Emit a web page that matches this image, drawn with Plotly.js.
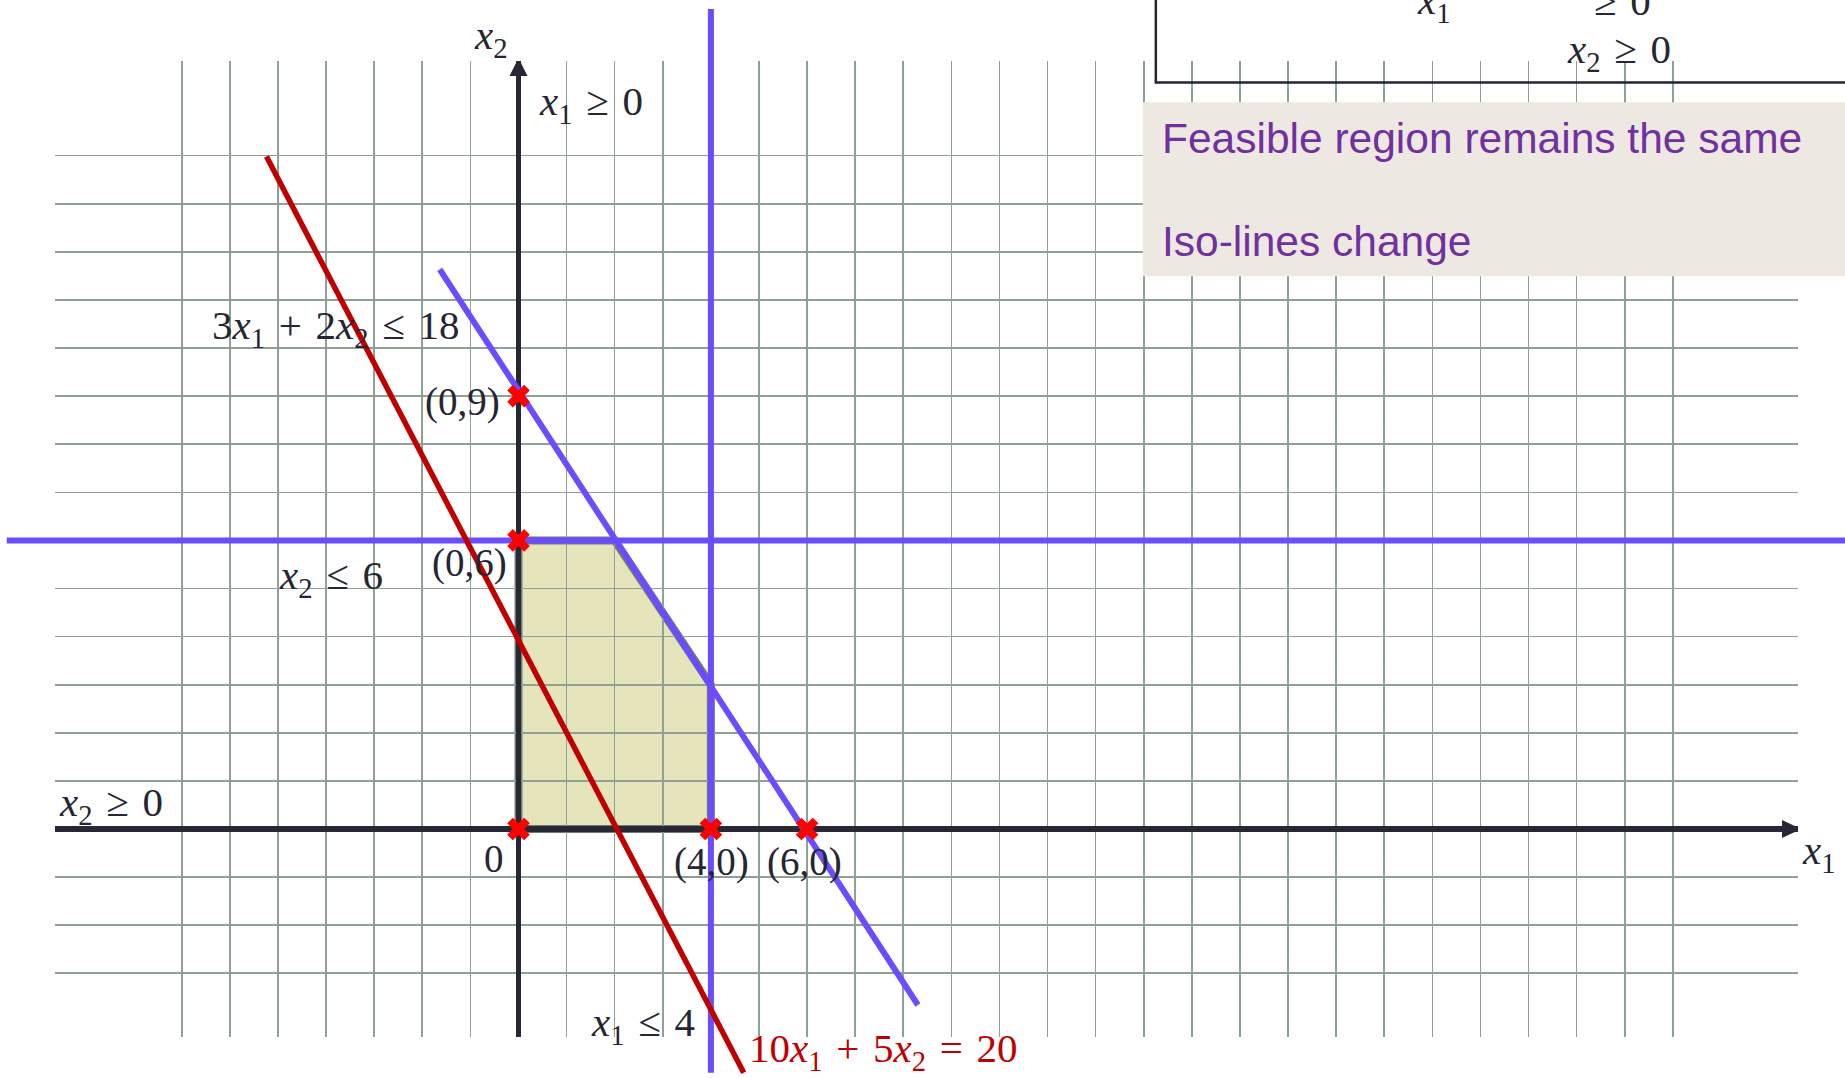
<!DOCTYPE html>
<html><head><meta charset="utf-8">
<script src="https://cdn.plot.ly/plotly-3.0.1.min.js"></script>
<style>html,body{margin:0;padding:0;background:#fff;overflow:hidden}</style>
</head><body>
<div id="chart" style="width:1845px;height:1078px"></div>
<script>
// ---------------- data (graph units) ----------------
const cornerX = [0, 0, 0, 4, 6];          // marked corner points
const cornerY = [0, 6, 9, 0, 0];
const feasibleX = [0, 0, 2, 4, 4];        // feasible region vertices
const feasibleY = [0, 6, 6, 3, 0];
const isoX = [-5.24, 4.683];              // 10x1 + 5x2 = 20
const isoY = [13.98, -5.066];
const c1X = [-1.638, 8.304];              // 3x1 + 2x2 = 18
const c1Y = [11.636, -3.659];
const c2X = [4, 4];                       // x1 = 4
const c2Y = [-5.07, 17.05];
const c3X = [-10.64, 28];                 // x2 = 6
const c3Y = [6, 6];
const gridTicksX = [-7, -6, -5, -4, -3, -2, -1, 0, 1, 2, 3, 4, 5, 6, 7, 8, 9, 10, 11, 12,
                    13, 14, 15, 16, 17, 18, 19, 20, 21, 22, 23, 24];
const gridTicksY = [-3, -2, -1, 0, 1, 2, 3, 4, 5, 6, 7, 8, 9, 10, 11, 12, 13, 14];

// ---------------- layout constants ----------------
const W = 1845, H = 1078;
const gridRangeX = [-9.636, 26.601];
const gridRangeY = [-4.318, 15.967];
const viewRangeX = [-10.78, 27.578];
const viewRangeY = [-5.177, 17.235];
const PURPLE = '#6B4CFF', RED = '#C00000', DARK = '#262633';
const MATH = 'Liberation Serif, Times New Roman, serif';
const SP = '\u2004';

const traces = [
  {x: c3X, y: c3Y, mode: 'lines', line: {color: PURPLE, width: 6}, xaxis: 'x2', yaxis: 'y2', hoverinfo: 'skip'},
  {x: c2X, y: c2Y, mode: 'lines', line: {color: PURPLE, width: 6}, xaxis: 'x2', yaxis: 'y2', hoverinfo: 'skip'},
  {x: c1X, y: c1Y, mode: 'lines', line: {color: PURPLE, width: 6}, xaxis: 'x2', yaxis: 'y2', hoverinfo: 'skip'},
  {x: isoX, y: isoY, mode: 'lines', line: {color: RED, width: 5.5}, xaxis: 'x2', yaxis: 'y2', hoverinfo: 'skip'},
  {x: cornerX, y: cornerY, mode: 'markers', marker: {symbol: 'x', size: 20, color: '#FF0000', line: {width: 0}},
   xaxis: 'x2', yaxis: 'y2', hoverinfo: 'skip', cliponaxis: false}
];

const feasiblePath = 'M' + feasibleX.map((v, i) => v + ',' + feasibleY[i]).join('L') + 'Z';

const shapes = [
  {type: 'path', xref: 'x', yref: 'y', layer: 'below', path: feasiblePath,
   fillcolor: '#E5E4BB', line: {color: '#6E7D73', width: 8}},
  // arrow heads on the axes
  {type: 'path', xref: 'x', yref: 'y', xsizemode: 'pixel', ysizemode: 'pixel',
   xanchor: gridRangeX[1], yanchor: 0, path: 'M3,0 L-16,9 L-16,-9 Z',
   fillcolor: '#282834', line: {width: 0}, layer: 'above'},
  {type: 'path', xref: 'x', yref: 'y', xsizemode: 'pixel', ysizemode: 'pixel',
   xanchor: 0, yanchor: gridRangeY[1], path: 'M0,3 L-9,-15 L9,-15 Z',
   fillcolor: '#282834', line: {width: 0}, layer: 'above'},
  // text boxes at top right
  {type: 'rect', xref: 'x2', yref: 'y2', x0: 12.98, x1: 30, y0: 11.49, y1: 15.11,
   fillcolor: '#EEE8E2', line: {width: 0}, layer: 'above'},
  {type: 'rect', xref: 'x2', yref: 'y2', x0: 13.25, x1: 30, y0: 15.52, y1: 20,
   fillcolor: 'rgba(0,0,0,0)', line: {color: DARK, width: 2.5}, layer: 'above'}
];

function lab(text, x, y, size, color) {
  return {text: text, x: x, y: y, xref: 'x2', yref: 'y2', showarrow: false,
          xanchor: 'center', yanchor: 'middle',
          font: {family: MATH, size: size || 41, color: color || DARK}};
}
const xi = (n) => '<i>x</i><sub>' + n + '</sub>';

const annotations = [
  lab(xi(2), -0.57, 16.45),
  lab(xi(1) + SP + '≥' + SP + '0', 1.51, 15.07),
  lab('3' + xi(1) + SP + '+' + SP + '2' + xi(2) + SP + '≤' + SP + '18', -3.81, 10.42),
  lab('(0,9)', -1.17, 8.88, 39),
  lab('(0,6)', -1.01, 5.53, 39),
  lab(xi(2) + SP + '≤' + SP + '6', -3.89, 5.22),
  lab(xi(2) + SP + '≥' + SP + '0', -8.48, 0.5),
  lab('0', -0.5, -0.62, 39),
  lab('(4,0)', 4.01, -0.68, 39),
  lab('(6,0)', 5.94, -0.68, 39),
  lab(xi(1) + SP + '≤' + SP + '4', 2.59, -4.07),
  lab('10' + xi(1) + SP + '+' + SP + '5' + xi(2) + SP + '=' + SP + '20', 7.58, -4.62, 41, RED),
  lab(xi(1), 27.04, -0.5),
  lab(xi(2) + SP + '≥' + SP + '0', 22.88, 16.15),
  lab(xi(1), 19.03, 17.18),
  lab('≥' + SP + '0', 22.95, 17.21),
  {text: 'Feasible region remains the same', x: 13.33, y: 14.35, xref: 'x2', yref: 'y2',
   showarrow: false, xanchor: 'left', yanchor: 'middle',
   font: {family: 'Liberation Sans, Arial, sans-serif', size: 42.5, color: '#7030A0'}},
  {text: 'Iso-lines change', x: 13.33, y: 12.21, xref: 'x2', yref: 'y2',
   showarrow: false, xanchor: 'left', yanchor: 'middle',
   font: {family: 'Liberation Sans, Arial, sans-serif', size: 42.5, color: '#7030A0'}}
];

const hidden = {showticklabels: false, ticks: '', showline: false, fixedrange: true};

const layout = {
  width: W, height: H, margin: {l: 0, r: 0, t: 0, b: 0, pad: 0},
  paper_bgcolor: '#FFFFFF', plot_bgcolor: 'rgba(0,0,0,0)', showlegend: false,
  xaxis: Object.assign({domain: [55 / W, 1798 / W], range: gridRangeX, anchor: 'y',
    tickmode: 'array', tickvals: gridTicksX, showgrid: true, gridcolor: '#8FA096', gridwidth: 1.6,
    zeroline: true, zerolinecolor: '#282834', zerolinewidth: 5.5}, hidden),
  yaxis: Object.assign({domain: [(H - 1036.7) / H, (H - 61) / H], range: gridRangeY, anchor: 'x',
    tickmode: 'array', tickvals: gridTicksY, showgrid: true, gridcolor: '#8FA096', gridwidth: 1.6,
    zeroline: true, zerolinecolor: '#282834', zerolinewidth: 5.5}, hidden),
  xaxis2: Object.assign({domain: [0, 1], range: viewRangeX, anchor: 'y2',
    showgrid: false, zeroline: false}, hidden),
  yaxis2: Object.assign({domain: [0, 1], range: viewRangeY, anchor: 'x2',
    showgrid: false, zeroline: false}, hidden),
  shapes: shapes,
  annotations: annotations
};

Plotly.newPlot('chart', traces, layout, {displayModeBar: false, staticPlot: true});
</script>
</body></html>
